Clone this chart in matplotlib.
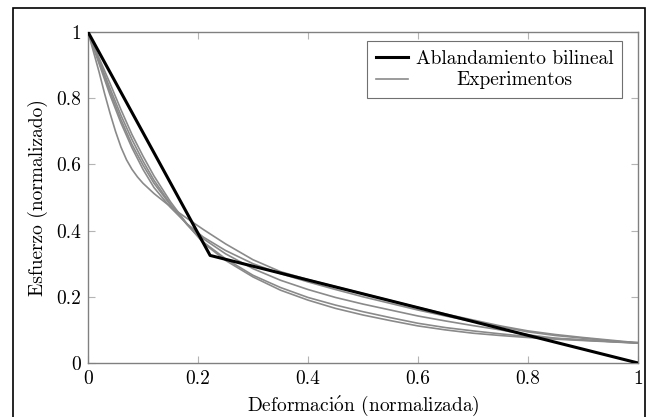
import matplotlib
matplotlib.use("Agg")
import matplotlib.pyplot as plt
from matplotlib.patches import Rectangle

plt.rcParams["font.family"] = ["cmr10", "DejaVu Serif"]
plt.rcParams["mathtext.fontset"] = "cm"
plt.rcParams["axes.unicode_minus"] = False

# bilinear softening law
x_bilinear = [0.0, 0.222, 1.0]
y_bilinear = [1.0, 0.325, 0.0]

x_exp_1 = [0.00, 0.01, 0.02, 0.03, 0.04, 0.05, 0.06, 0.07, 0.08, 0.09, 0.10,
           0.12, 0.15, 0.18, 0.21, 0.25, 0.30, 0.35, 0.40, 0.45, 0.50, 0.55,
           0.60, 0.65, 0.70, 0.75, 0.80, 0.85, 0.90, 0.95, 1.00]
exp_1 = [1.0, 0.94, 0.88, 0.815, 0.755, 0.70, 0.652, 0.614, 0.585, 0.562,
         0.543, 0.512, 0.472, 0.437, 0.403, 0.36, 0.312, 0.276, 0.252, 0.231,
         0.21, 0.189, 0.168, 0.148, 0.13, 0.112, 0.097, 0.086, 0.077, 0.069,
         0.061]

x_exp = [0.00, 0.02, 0.04, 0.06, 0.08, 0.10, 0.12, 0.15, 0.18, 0.21, 0.25,
         0.30, 0.35, 0.40, 0.45, 0.50, 0.55, 0.60, 0.65, 0.70, 0.75, 0.80,
         0.85, 0.90, 0.95, 1.00]
exp_2 = [1.0, 0.905, 0.81, 0.725, 0.65, 0.585, 0.53, 0.47, 0.42, 0.38, 0.34,
         0.30, 0.27, 0.245, 0.222, 0.20, 0.18, 0.16, 0.142, 0.125, 0.11,
         0.094, 0.083, 0.075, 0.067, 0.06]
exp_3 = [1.0, 0.91, 0.82, 0.735, 0.66, 0.598, 0.543, 0.477, 0.42, 0.375, 0.33,
         0.285, 0.25, 0.222, 0.198, 0.178, 0.16, 0.142, 0.127, 0.113, 0.10,
         0.085, 0.075, 0.07, 0.065, 0.062]
exp_4 = [1.0, 0.915, 0.83, 0.748, 0.675, 0.61, 0.552, 0.48, 0.418, 0.365, 0.315,
         0.265, 0.228, 0.198, 0.175, 0.155, 0.137, 0.12, 0.107, 0.097, 0.088,
         0.08, 0.074, 0.069, 0.065, 0.06]
exp_5 = [1.0, 0.922, 0.845, 0.765, 0.69, 0.625, 0.565, 0.487, 0.42, 0.362, 0.31,
         0.26, 0.22, 0.19, 0.165, 0.145, 0.128, 0.112, 0.10, 0.09, 0.083,
         0.077, 0.072, 0.068, 0.064, 0.06]
experiments = [(x_exp_1, exp_1), (x_exp, exp_2), (x_exp, exp_3),
               (x_exp, exp_4), (x_exp, exp_5)]

ticks = [0, 0.2, 0.4, 0.6, 0.8, 1.0]
tick_labels = ["0", "0.2", "0.4", "0.6", "0.8", "1"]

W, H = 656, 417
fig = plt.figure(figsize=(W / 100, H / 100), dpi=100)
ax = fig.add_axes([88 / W, 1 - 363 / H, (638 - 88) / W, (363 - 32) / H])

# outer frame (open at the bottom edge of the picture)
fig.patches.append(Rectangle((13 / W, -0.02), (645 - 13) / W, 1.02 - 8 / H,
                             transform=fig.transFigure, fill=False,
                             edgecolor="black", linewidth=1.2))

gray = "#8a8a8a"
for i, (xs, ys) in enumerate(experiments):
    ax.plot(xs, ys, color=gray, linewidth=1.2,
            label="Experimentos" if i == 0 else None, zorder=2)
ax.plot(x_bilinear, y_bilinear, color="black", linewidth=2.2,
        label="Ablandamiento bilineal", zorder=3)

ax.set_xlim(0, 1)
ax.set_ylim(0, 1)
ax.set_xticks(ticks)
ax.set_xticklabels(tick_labels)
ax.set_yticks(ticks)
ax.set_yticklabels(tick_labels)
ax.tick_params(direction="in", length=5, width=0.8, color="#b4b4b4",
               top=True, right=True, labelsize=14, pad=5)
for s in ax.spines.values():
    s.set_color("#808080")
    s.set_linewidth(1.0)

# accent over the o, nudged back to the centre of the glyph
ax.set_xlabel(r"Deformaci$\acute{\mathrm{o}\hspace{-0.12}}\hspace{0.12}$n (normalizada)",
              fontsize=14, labelpad=4)
ax.set_ylabel("Esfuerzo (normalizado)", fontsize=14, labelpad=6)

handles, labels = ax.get_legend_handles_labels()
leg = ax.legend(handles[::-1], labels[::-1], loc="upper right",
                bbox_to_anchor=(0.971, 0.973), borderaxespad=0, fontsize=14,
                fancybox=False, framealpha=1, edgecolor="#707070",
                handlelength=1.65, handletextpad=0.4, borderpad=0.45,
                labelspacing=0.2)
leg.get_frame().set_linewidth(0.8)

# pgfplots centres the legend texts: shift the shorter one
fig.canvas.draw()
texts = leg.get_texts()
widths = [t.get_window_extent().width for t in texts]
wmax = max(widths)
for t, w in zip(texts, widths):
    t.set_x((wmax - w) / 2)

fig.savefig("out.png", dpi=100)
